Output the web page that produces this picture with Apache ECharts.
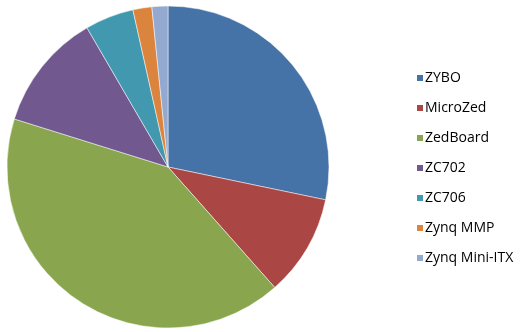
<!DOCTYPE html>
<html><head><meta charset="utf-8">
<script src="https://cdn.jsdelivr.net/npm/echarts@6/dist/echarts.min.js"></script>
<style>html,body{margin:0;padding:0;background:#fff}#c{width:527px;height:332px}</style>
</head><body><div id="c"></div>
<script>
const categories = ["ZYBO", "MicroZed", "ZedBoard", "ZC702", "ZC706", "Zynq MMP", "Zynq Mini-ITX"];
const values = [28.3, 10.2, 41.4, 11.8, 4.9, 1.9, 1.6];
const colors = ["#4572A7", "#AA4643", "#89A54E", "#71588F", "#4198AF", "#DB843D", "#93A9CF"];

const chart = echarts.init(document.getElementById('c'), null, {renderer: 'canvas'});
chart.setOption({
  animation: false,
  color: colors,
  legend: {
    orient: 'vertical',
    left: 410,
    top: 66,
    itemWidth: 8,
    itemHeight: 8,
    itemGap: 16,
    icon: 'rect',
    textStyle: {fontFamily: 'Open Sans', fontSize: 14, color: '#000', padding: [0,0,0,-4]},
    data: categories
  },
  series: [{
    type: 'pie',
    center: [168, 167],
    radius: 161,
    startAngle: 90,
    clockwise: true,
    label: {show: false},
    labelLine: {show: false},
    itemStyle: {borderColor: '#fff', borderWidth: 0.5},
    data: categories.map((n, i) => ({name: n, value: values[i]}))
  }]
});
</script></body></html>
